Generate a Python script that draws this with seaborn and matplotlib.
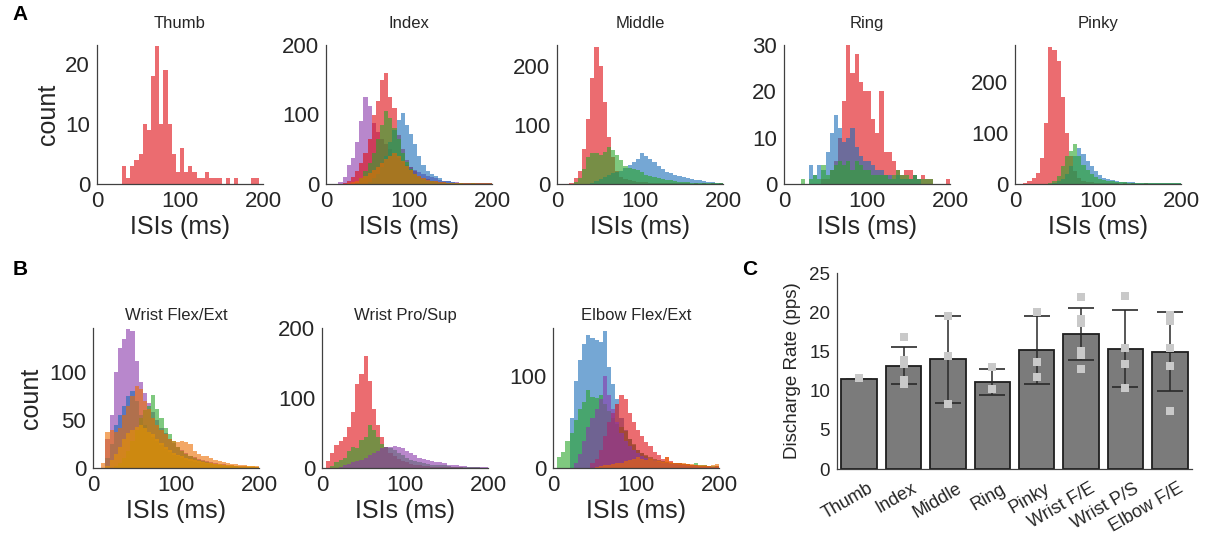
import numpy as np
import pandas as pd
import matplotlib
matplotlib.use("Agg")
import matplotlib.pyplot as plt
import matplotlib.transforms as mtransforms
import seaborn as sns

# ---- histogram data: counts per 5 ms ISI bin, listed from the first non-empty bin ----
bin_width = 5
bin_edges = np.arange(0, 200 + bin_width, bin_width)
bin_centers = bin_edges[:-1] + bin_width / 2

# (first bin start in ms, counts)
thumb_red = (30, [3, 1, 3, 4, 5, 10, 9, 18, 23, 10, 19, 10, 5, 2, 6, 2, 3, 2, 1, 1, 2, 1, 1, 1, 0, 1, 0, 1, 0, 0, 0, 1, 1])

index_purple = (15, [3, 10, 28, 38, 60, 90, 125, 112, 88, 75, 65, 58, 50, 45, 38, 32, 28, 24, 20, 17, 14, 12, 10, 8, 6, 5, 4, 3, 3, 2, 2, 2, 1, 1, 1, 1, 1])
index_red = (20, [2, 5, 10, 18, 30, 45, 65, 100, 120, 150, 160, 125, 110, 70, 50, 35, 25, 18, 12, 9, 7, 5, 4, 3, 3, 2, 2, 2, 2, 1, 1, 1, 2, 1, 2, 1])
index_blue = (50, [3, 8, 15, 25, 40, 60, 78, 92, 102, 85, 72, 58, 40, 28, 18, 15, 12, 8, 5, 4, 3, 2, 2, 1, 1, 1, 1, 1, 1, 1])
index_green = (35, [2, 8, 18, 30, 45, 65, 85, 105, 95, 80, 65, 45, 32, 22, 15, 10, 7, 5, 4, 3, 2, 2, 1, 1, 1, 1, 0, 0, 1])
index_orange = (25, [1, 3, 5, 8, 12, 16, 20, 25, 30, 36, 40, 45, 40, 33, 26, 20, 15, 11, 8, 6, 5, 4, 3, 3, 2, 2, 2, 2, 1, 1, 1, 1, 1, 1, 1])

middle_red = (15, [2, 10, 22, 60, 110, 180, 232, 200, 140, 80, 45, 22, 12, 8, 6, 5, 4, 3, 3, 2, 2, 2, 1, 1, 1, 1, 1, 1, 1, 0, 1, 0, 1, 0, 1, 0, 1])
middle_blue = (40, [2, 5, 8, 12, 15, 18, 20, 22, 28, 32, 38, 42, 52, 48, 42, 38, 30, 25, 20, 18, 16, 14, 12, 10, 8, 7, 6, 5, 4, 3, 2, 1])
middle_green = (20, [3, 10, 25, 45, 52, 53, 50, 55, 62, 58, 50, 40, 30, 28, 26, 24, 20, 16, 14, 12, 10, 8, 7, 6, 5, 4, 3, 3, 2, 2, 2, 1, 1, 1, 1, 1])

ring_red = (45, [1, 1, 3, 5, 10, 18, 30, 24, 28, 22, 20, 20, 14, 11, 20, 7, 7, 5, 3, 2, 3, 3, 2, 1, 2, 1, 1, 0, 0, 0, 1])
ring_blue = (30, [4, 2, 4, 3, 7, 11, 15, 12, 9, 10, 12, 8, 6, 5, 5, 4, 3, 3, 2, 2, 1, 2, 1, 1, 1, 2, 1])
ring_green = (20, [1, 0, 1, 2, 1, 4, 2, 3, 4, 5, 4, 5, 3, 5, 4, 3, 3, 2, 2, 2, 2, 1, 2, 3, 2, 2, 1, 2, 1, 1, 1, 1])

pinky_red = (10, [2, 6, 12, 22, 50, 120, 268, 262, 240, 170, 100, 55, 25, 12, 6, 4, 3, 2, 2, 1, 1, 1, 1, 0, 1, 0, 1, 0, 0, 1])
pinky_blue = (45, [2, 5, 10, 20, 35, 55, 70, 58, 45, 35, 25, 18, 12, 9, 7, 5, 4, 4, 3, 3, 2, 2, 2, 1, 1, 1, 1, 1, 1, 1, 1])
pinky_green = (40, [2, 6, 15, 35, 55, 65, 78, 55, 38, 28, 20, 14, 10, 8, 6, 5, 4, 3, 3, 2, 2, 2, 1, 1, 1, 1, 1, 1, 1, 1, 1, 1])

wfe_purple = (15, [30, 55, 100, 125, 135, 145, 143, 112, 90, 78, 68, 58, 50, 42, 36, 30, 26, 22, 19, 16, 13, 11, 9, 8, 7, 6, 5, 4, 4, 3, 3, 2, 2, 2, 1, 1, 1])
wfe_blue = (15, [10, 25, 45, 55, 65, 75, 80, 70, 55, 45, 38, 32, 28, 24, 20, 17, 14, 12, 10, 8, 7, 6, 5, 5, 4, 4, 3, 3, 2, 2, 2, 2, 1, 1, 1, 1, 1])
wfe_green = (25, [2, 5, 10, 18, 28, 40, 52, 60, 65, 76, 62, 52, 42, 35, 28, 22, 18, 15, 12, 10, 8, 7, 6, 5, 4, 3, 3, 2, 2, 2, 1, 1, 1, 1, 1])
wfe_yellow = (15, [2, 8, 15, 22, 30, 36, 40, 43, 45, 42, 38, 35, 30, 26, 22, 19, 16, 14, 12, 10, 9, 8, 7, 6, 5, 5, 4, 4, 3, 3, 3, 2, 2, 2, 2, 2, 1])
wfe_orange = (10, [5, 38, 40, 38, 42, 55, 65, 75, 85, 82, 70, 62, 52, 45, 40, 35, 30, 28, 27, 28, 27, 25, 18, 15, 13, 12, 10, 8, 7, 6, 5, 4, 4, 3, 3, 2, 2, 2])

wps_red = (5, [10, 22, 33, 38, 45, 58, 80, 120, 135, 160, 125, 85, 62, 45, 30, 22, 17, 13, 10, 8, 6, 5, 4, 3, 3, 2, 2, 2, 1, 1, 1, 1, 1])
wps_green = (10, [3, 8, 12, 15, 25, 30, 28, 40, 45, 62, 55, 45, 35, 30, 28, 26, 22, 18, 15, 12, 10, 8, 7, 6, 5, 4, 4, 5, 3, 2, 2, 1, 1, 1, 1, 1])
wps_purple = (20, [2, 4, 6, 8, 10, 12, 15, 18, 22, 25, 28, 30, 30, 32, 30, 28, 25, 22, 18, 15, 13, 12, 10, 9, 8, 7, 5, 4, 4, 3, 3, 2, 2, 2, 1, 1])

efe_blue = (20, [55, 95, 118, 135, 145, 142, 140, 138, 150, 110, 92, 75, 55, 42, 32, 25, 20, 16, 13, 10, 8, 7, 6, 5, 4, 3, 3, 2, 2, 2, 1, 1, 1, 1, 1, 1])
efe_green = (5, [12, 18, 30, 38, 52, 65, 72, 85, 78, 76, 80, 70, 62, 55, 48, 45, 40, 32, 26, 20, 16, 14, 12, 10, 9, 8, 7, 6, 5, 5, 4, 4, 3, 6, 3, 3, 2, 2, 2])
efe_red = (45, [5, 10, 20, 35, 50, 60, 70, 80, 75, 60, 50, 42, 35, 28, 24, 18, 14, 10, 12, 8, 6, 5, 4, 4, 3, 3, 2, 2, 2, 1, 2])
efe_purple = (25, [5, 15, 30, 45, 55, 65, 75, 100, 80, 65, 50, 38, 30, 24, 20, 16, 13, 11, 9, 8, 7, 6, 5, 4, 4, 3, 3, 2, 2, 2, 1, 1, 1, 1, 1])
efe_orange = (50, [1, 2, 3, 3, 4, 5, 6, 8, 9, 10, 12, 10, 9, 10, 8, 8, 7, 12, 7, 6, 5, 5, 4, 4, 3, 3, 3, 2, 3, 4])

# ---- panel C data ----
movements = ["Thumb", "Index", "Middle", "Ring", "Pinky", "Wrist F/E", "Wrist P/S", "Elbow F/E"]
rate_mean = [11.5, 13.2, 14.0, 11.1, 15.2, 17.2, 15.35, 14.95]
rate_sd = [0.0, 2.4, 5.55, 1.6, 4.35, 3.3, 4.95, 5.05]
subject_rates = {
    "Thumb": [11.6],
    "Index": [16.9, 13.9, 13.4, 11.4, 10.9],
    "Middle": [19.5, 14.4, 8.3],
    "Ring": [13.0, 10.2],
    "Pinky": [20.0, 13.6, 11.7],
    "Wrist F/E": [22.0, 19.1, 18.6, 15.0, 14.5, 12.8],
    "Wrist P/S": [22.1, 15.4, 13.4, 10.3],
    "Elbow F/E": [19.6, 18.9, 15.4, 13.2, 7.4],
}

# colours (drawn at 60% opacity like the MATLAB histograms)
RED, BLUE, GREEN = "#df0a11", "#1a6cb8", "#2aa52a"
PURPLE, ORANGE, YELLOW = "#8a38ab", "#ec6c00", "#e6cd00"
TXT = "#262626"

sns.set_theme(style="white")
plt.rcParams["font.family"] = ["Liberation Sans", "DejaVu Sans"]
plt.rcParams["text.color"] = TXT
plt.rcParams["axes.labelcolor"] = TXT
plt.rcParams["xtick.color"] = TXT
plt.rcParams["ytick.color"] = TXT

W, H = 1206, 535
fig = plt.figure(figsize=(W / 100, H / 100), dpi=100)


def px_axes(left, top, width, height):
    return fig.add_axes([left / W, 1 - (top + height) / H, width / W, height / H])


def bin_table(series):
    start, vals = series
    counts = np.zeros(len(bin_centers))
    i = start // bin_width
    counts[i:i + len(vals)] = vals
    return pd.DataFrame({"isi": bin_centers, "n": counts})


def hist_panel(ax, title, layers, ymax, yticks, show_ylabel, title_pad):
    for series, color in layers:
        sns.histplot(data=bin_table(series), x="isi", weights="n", bins=list(bin_edges),
                     color=color, alpha=0.6, linewidth=0, edgecolor="none", ax=ax)
    ax.set_xlim(0, 200)
    ax.set_ylim(0, ymax)
    ax.set_xticks([0, 100, 200])
    ax.set_yticks(yticks)
    ax.tick_params(axis="both", labelsize=16, direction="in", length=2, pad=5)
    ax.set_xlabel("ISIs (ms)", fontsize=18, labelpad=2)
    ax.set_ylabel("count" if show_ylabel else "", fontsize=18, labelpad=4)
    ax.set_title(title, fontsize=12, pad=title_pad)
    sns.despine(ax=ax)
    for s in ("left", "bottom"):
        ax.spines[s].set_color("#404040")
        ax.spines[s].set_linewidth(0.9)


# ---- panel A ----
a_lefts = [97, 326, 557, 784, 1015]
a_panels = [
    ("Thumb", [(thumb_red, RED)], 23.2, [0, 10, 20]),
    ("Index", [(index_purple, PURPLE), (index_red, RED), (index_blue, BLUE),
               (index_green, GREEN), (index_orange, ORANGE)], 200, [0, 100, 200]),
    ("Middle", [(middle_red, RED), (middle_blue, BLUE), (middle_green, GREEN)], 236, [0, 100, 200]),
    ("Ring", [(ring_red, RED), (ring_blue, BLUE), (ring_green, GREEN)], 30, [0, 10, 20, 30]),
    ("Pinky", [(pinky_red, RED), (pinky_blue, BLUE), (pinky_green, GREEN)], 272, [0, 100, 200]),
]
for i, (left, (title, layers, ymax, yt)) in enumerate(zip(a_lefts, a_panels)):
    ax = px_axes(left, 45, 166, 139)
    hist_panel(ax, title, layers, ymax, yt, i == 0, 12)

# ---- panel B ----
b_lefts = [93, 322, 553]
b_panels = [
    ("Wrist Flex/Ext", [(wfe_purple, PURPLE), (wfe_blue, BLUE), (wfe_green, GREEN),
                        (wfe_yellow, YELLOW), (wfe_orange, ORANGE)], 146, [0, 50, 100]),
    ("Wrist Pro/Sup", [(wps_red, RED), (wps_green, GREEN), (wps_purple, PURPLE)], 200, [0, 100, 200]),
    ("Elbow Flex/Ext", [(efe_blue, BLUE), (efe_green, GREEN), (efe_red, RED),
                        (efe_purple, PURPLE), (efe_orange, ORANGE)], 153, [0, 100]),
]
for i, (left, (title, layers, ymax, yt)) in enumerate(zip(b_lefts, b_panels)):
    ax = px_axes(left, 328, 166, 140)
    hist_panel(ax, title, layers, ymax, yt, i == 0, 6)

# ---- panel C ----
axc = px_axes(837, 273, 355, 196)
bars = pd.DataFrame({"movement": movements, "rate": rate_mean})
sns.barplot(data=bars, x="movement", y="rate", color="#7b7b7b", saturation=1,
            edgecolor="#1e1e1e", linewidth=1.3, width=0.8, errorbar=None, ax=axc)
axc.errorbar(x=np.arange(len(movements)), y=rate_mean, yerr=rate_sd, fmt="none",
             ecolor="#2a2a2a", elinewidth=1.1, capsize=9.5, capthick=1.2, zorder=3)
pts = pd.DataFrame([(m, r) for m in movements for r in subject_rates[m]],
                   columns=["movement", "rate"])
sns.stripplot(data=pts, x="movement", y="rate", order=movements, jitter=False,
              marker="s", size=5.5, color="#c9c9c9", linewidth=0, zorder=4, ax=axc)
axc.set_ylim(0, 25)
axc.set_xlim(-0.5, len(movements) - 0.5)
axc.set_yticks([0, 5, 10, 15, 20, 25])
axc.tick_params(axis="y", labelsize=13.5, direction="in", length=2, pad=5)
axc.tick_params(axis="x", labelsize=13, length=0, pad=3)
shift = mtransforms.ScaledTranslation(0.08, -0.07, fig.dpi_scale_trans)
for lab in axc.get_xticklabels():
    lab.set_rotation(30)
    lab.set_ha("right")
    lab.set_rotation_mode("anchor")
    lab.set_transform(lab.get_transform() + shift)
axc.set_xlabel("")
axc.set_ylabel("Discharge Rate (pps)", fontsize=13.5, labelpad=6)
sns.despine(ax=axc)
for s in ("left", "bottom"):
    axc.spines[s].set_color("#404040")
    axc.spines[s].set_linewidth(0.9)

# panel letters
for letter, x, y in [("A", 20, 15), ("B", 20, 270), ("C", 750, 270)]:
    fig.text(x / W, 1 - y / H, letter, fontsize=15, fontweight="bold",
             ha="center", va="center", color="black")

fig.savefig("out.png", dpi=100, facecolor="white")
